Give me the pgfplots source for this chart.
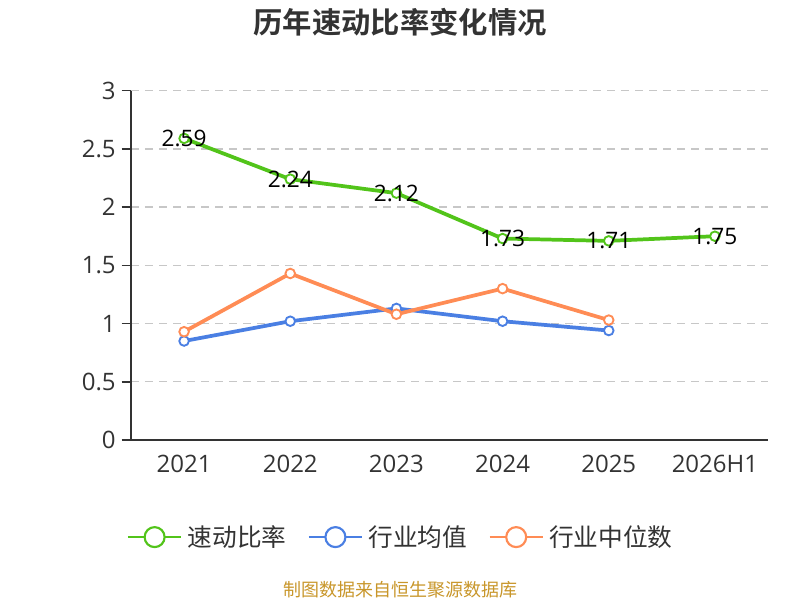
\documentclass[border=0pt]{standalone}
\usepackage{pgfplots}
\pgfplotsset{compat=1.18}
\usepackage{fontspec}
\setmainfont{Open Sans}
\newfontfamily\cjk{Noto Sans CJK SC}[BoldFont={Noto Sans CJK SC Bold}]
\definecolor{cgreen}{HTML}{52C41A}
\definecolor{cblue}{HTML}{4A7FE3}
\definecolor{corange}{HTML}{FF8C55}
\definecolor{ctext}{HTML}{333333}
\definecolor{csrc}{HTML}{C8962A}
\begin{document}
\begin{tikzpicture}
\useasboundingbox (0,0) rectangle (600pt,450pt);
\node[font=\cjk\bfseries\fontsize{22}{26}\selectfont, text=ctext] at (300pt,433pt) {历年速动比率变化情况};
\node[font=\cjk\fontsize{13.5}{16}\selectfont, text=csrc] at (300pt,7.5pt) {制图数据来自恒生聚源数据库};
\begin{axis}[
  at={(98.25pt,120pt)}, anchor=south west,
  scale only axis, width=477.75pt, height=262pt,
  xmin=-0.5, xmax=5.5, ymin=0, ymax=3,
  axis x line=bottom, axis y line=left,
  axis line style={-, ctext, line width=1.1pt},
  xtick={0,1,2,3,4,5},
  xticklabels={2021,2022,2023,2024,2025,2026H1},
  major x tick style={draw=none},
  extra x ticks={-0.5,0.5,1.5,2.5,3.5,4.5,5.5},
  extra x tick labels={},
  extra x tick style={major tick length=7pt, tick style={ctext, line width=1.1pt}, grid=none},
  ytick={0,0.5,1,1.5,2,2.5,3},
  yticklabels={0,0.5,1,1.5,2,2.5,3},
  tick align=outside,
  major tick length=7pt,
  y tick style={ctext, line width=1.1pt},
  ymajorgrids,
  grid style={dash pattern=on 6pt off 4.5pt, color=black!22, line width=1pt},
  tick label style={font=\fontsize{18}{21}\selectfont, text=ctext},
  xticklabel style={yshift=-1pt},
  yticklabel style={xshift=-1pt},
  /pgf/number format/assume math mode=true,
  clip=false,
  legend style={at={(0.424,-0.278)}, anchor=center, draw=none, legend columns=3,
    font=\cjk\fontsize{18.5}{21}\selectfont, text=ctext,
    /tikz/every odd column/.append style={column sep=2pt},
    /tikz/every even column/.append style={column sep=14pt}},
  legend image code/.code={
    \draw[#1, mark=none, line width=1.6pt] (0pt,0pt) -- (40pt,0pt);
    \draw[#1, mark=none, fill=white, line width=1.6pt] (20pt,0pt) circle (7.5pt);
  },
]
\addplot[cgreen, line width=2.8pt, mark=*, mark size=3.6pt, mark options={fill=white, line width=1.4pt},
  nodes near coords, point meta=explicit symbolic,
  every node near coord/.append style={anchor=center, text=black, font=\fontsize{17}{20}\selectfont}]
  table[meta=label] {
x y label
0 2.59 2.59
1 2.24 2.24
2 2.12 2.12
3 1.73 1.73
4 1.71 1.71
5 1.75 1.75
};
\addlegendentry{速动比率}
\addplot[cblue, line width=2.8pt, mark=*, mark size=3.6pt, mark options={fill=white, line width=1.4pt}]
  table {
x y
0 0.85
1 1.02
2 1.13
3 1.02
4 0.94
};
\addlegendentry{行业均值}
\addplot[corange, line width=2.8pt, mark=*, mark size=3.6pt, mark options={fill=white, line width=1.4pt}]
  table {
x y
0 0.93
1 1.43
2 1.08
3 1.30
4 1.03
};
\addlegendentry{行业中位数}
\end{axis}
\end{tikzpicture}
\end{document}
